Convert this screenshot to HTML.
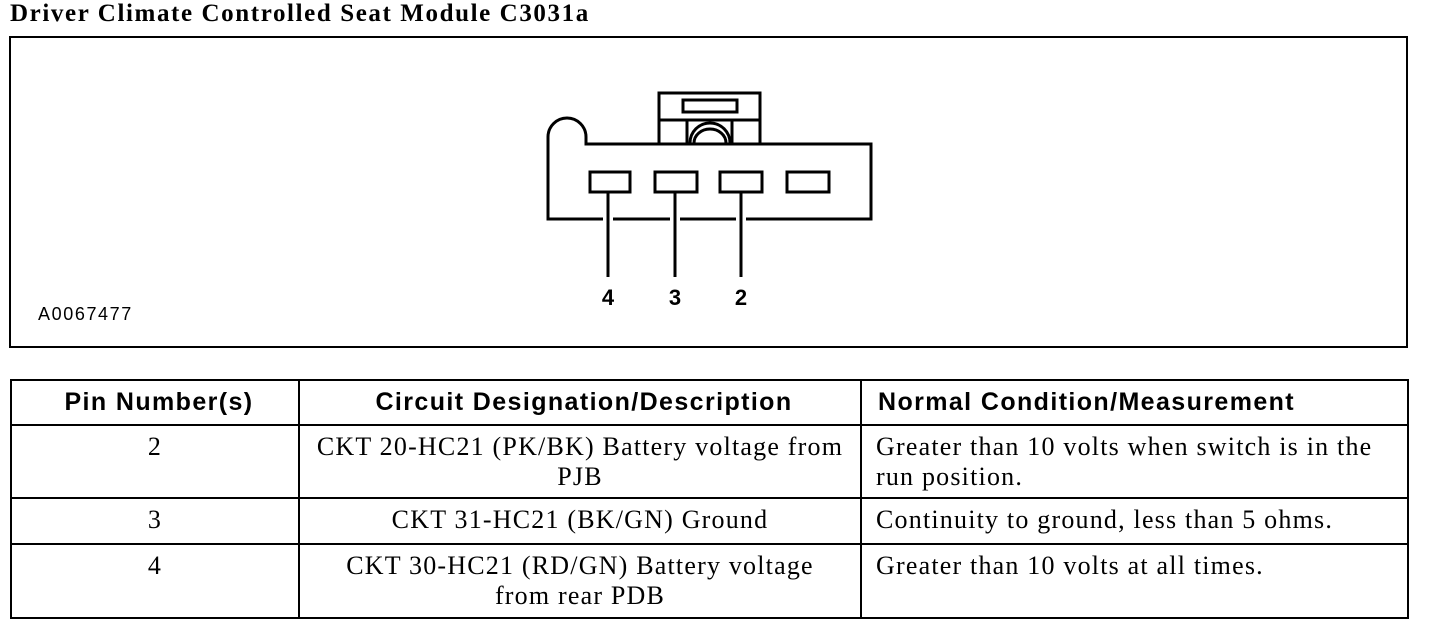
<!DOCTYPE html>
<html><head><style>
body{margin:0;width:1440px;height:632px;background:#fff;position:relative;overflow:hidden}
.t{position:absolute;left:10px;top:0px;font:bold 25px "Liberation Serif",serif;letter-spacing:1.6px}
table{position:absolute;left:10px;top:379px;border-collapse:collapse;width:1399px}
td,th{border:2px solid #000;vertical-align:top;font:26px "Liberation Serif",serif;letter-spacing:1.2px;padding:6px 8px 0 14px;line-height:30px}
th{font:bold 25px "Liberation Sans",sans-serif;letter-spacing:1.4px;height:43px;vertical-align:middle;padding:0 8px 0 16px}
.c{text-align:center;padding-left:8px}
</style></head><body>
<div class="t">Driver Climate Controlled Seat Module C3031a</div>
<svg width="1440" height="360" style="position:absolute;left:0;top:0">
<rect x="10" y="37" width="1397" height="310" fill="none" stroke="#000" stroke-width="2"/>
<g fill="none" stroke="#000" stroke-width="3">
<path d="M548 219 V137 A19 19 0 0 1 586 137 V144 H871 V219 Z"/>
<rect x="659" y="93" width="101" height="51" fill="#fff"/>
<rect x="683" y="100" width="54" height="12"/>
<path d="M659 120 H760 M687 120 V144 M732 120 V144"/>
<path d="M690 143 A20 20 0 0 1 730 143 M694 143 A16 14 0 0 1 726 143"/>
<rect x="590" y="172" width="40" height="20"/>
<rect x="655" y="172" width="42" height="20"/>
<rect x="720" y="172" width="42" height="20"/>
<rect x="787" y="172" width="42" height="20"/>
</g>
<g stroke="#fff" stroke-width="6"><path d="M603 219 H613 M670 219 H680 M736 219 H746"/></g>
<g stroke="#000" stroke-width="3"><path d="M608 192 V277 M675 192 V277 M741 192 V277"/></g>
<g font-family="Liberation Sans,sans-serif" font-weight="bold" font-size="22" text-anchor="middle">
<text x="608" y="305">4</text><text x="675" y="305">3</text><text x="741" y="305">2</text></g>
<text x="38" y="320" font-family="Liberation Sans,sans-serif" font-size="18" letter-spacing="1.6">A0067477</text>
</svg>
<table>
<tr><th style="width:262px">Pin Number(s)</th><th style="width:536px">Circuit Designation/Description</th><th style="text-align:left">Normal Condition/Measurement</th></tr>
<tr style="height:73px"><td class="c">2</td><td class="c">CKT 20-HC21 (PK/BK) Battery voltage from PJB</td><td>Greater than 10 volts when switch is in the run position.</td></tr>
<tr style="height:46px"><td class="c">3</td><td class="c">CKT 31-HC21 (BK/GN) Ground</td><td>Continuity to ground, less than 5 ohms.</td></tr>
<tr style="height:74px"><td class="c">4</td><td class="c">CKT 30-HC21 (RD/GN) Battery voltage<br>from rear PDB</td><td>Greater than 10 volts at all times.</td></tr>
</table>
</body></html>
